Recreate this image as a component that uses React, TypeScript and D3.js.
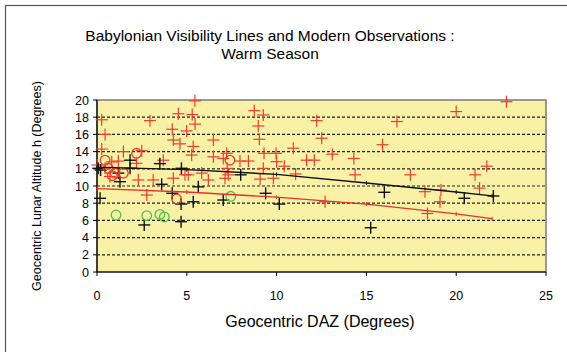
import React from "react";
import * as d3 from "d3";

const W = 567;
const H = 352;

const titleLines = ["Babylonian Visibility Lines and Modern Observations :", "Warm Season"];
const xLabel = "Geocentric DAZ (Degrees)";
const yLabel = "Geocentric Lunar Altitude h (Degrees)";
const xTicks = [0, 5, 10, 15, 20, 25];
const yTicks = [0, 2, 4, 6, 8, 10, 12, 14, 16, 18, 20];

// Modern observations: red crosses
const redCrosses: [number, number][] = [
  [5.45, 19.9], [0.26, 17.7], [2.95, 17.6], [4.53, 18.4], [5.3, 18.3], [5.46, 17.2],
  [0.45, 16.0], [4.19, 16.6], [4.99, 16.4], [4.25, 15.35], [6.48, 15.35], [4.62, 14.9],
  [5.36, 14.6], [0.26, 14.3], [1.47, 14.0], [2.49, 14.1], [5.27, 13.6], [6.48, 13.4],
  [7.03, 13.2], [7.22, 13.8], [0.82, 12.8], [1.19, 12.9], [2.2, 12.64], [3.69, 13.0],
  [0.02, 12.44], [0.45, 12.06], [0.72, 11.1], [2.3, 10.7], [3.13, 10.7], [4.25, 10.9],
  [4.9, 11.3], [5.08, 11.3], [5.83, 11.5], [6.2, 10.7], [7.13, 10.9], [7.31, 11.3],
  [7.25, 12.05], [2.77, 8.95],
  [8.76, 18.76], [9.26, 18.26], [8.98, 16.98], [9.04, 15.43], [12.23, 17.6], [12.51, 15.55],
  [9.3, 13.8], [9.97, 13.8], [10.93, 14.4], [13.1, 13.7], [14.3, 13.2], [10.0, 12.83],
  [10.43, 12.3], [7.96, 12.9], [8.43, 12.9], [11.67, 13.0], [12.1, 13.0], [9.26, 12.05],
  [11.06, 11.4], [14.37, 11.3], [9.08, 10.8], [9.82, 10.9], [12.7, 8.17],
  [22.8, 19.8], [20.0, 18.65], [16.7, 17.5], [15.9, 14.8], [17.45, 11.3], [21.05, 11.3],
  [21.7, 12.3], [21.3, 9.75], [18.26, 9.34], [19.15, 9.53], [19.1, 8.17], [18.4, 6.8],
];

// Modern observations: black crosses
const blackCrosses: [number, number][] = [
  [1.84, 13.0], [0.07, 12.06], [0.2, 11.85], [1.19, 11.5], [1.84, 12.06], [1.28, 10.5],
  [3.5, 12.6], [3.6, 10.2], [4.7, 12.06], [5.64, 9.9], [0.17, 8.57], [4.19, 9.15],
  [4.68, 7.9], [5.36, 8.17], [7.03, 8.37], [2.63, 5.47], [4.68, 5.85], [8.0, 11.3],
  [9.39, 9.15], [10.15, 7.9], [15.24, 5.15], [16.0, 9.27], [20.45, 8.57], [22.07, 8.84],
];

// Red open circles
const redCircles: [number, number][] = [
  [0.45, 13.0], [2.2, 13.8], [0.63, 12.06], [1.0, 11.5], [1.47, 11.5], [0.85, 11.2],
  [7.4, 13.0], [4.43, 8.5],
];

// Green open circles
const greenCircles: [number, number][] = [
  [1.06, 6.63], [2.77, 6.55], [3.5, 6.7], [3.75, 6.4], [7.45, 8.8],
];

// Babylonian visibility lines
const blackLine: [number, number][] = [
  [0, 12.2], [5, 11.9], [10, 11.35], [15, 10.35], [20, 9.3], [22, 8.85],
];
const redLine: [number, number][] = [
  [0, 9.7], [5, 9.3], [10, 8.7], [15, 7.9], [20, 6.75], [22, 6.2],
];

const FONT = "'Liberation Sans', Arial, sans-serif";

export default function App() {
  const left = 97, right = 546, top = 100, bottom = 272;
  const x = d3.scaleLinear().domain([0, 25]).range([left, right]);
  const y = d3.scaleLinear().domain([0, 20]).range([bottom, top]);
  const line = d3.line<[number, number]>().x(d => x(d[0])).y(d => y(d[1]));

  const cross = (d: [number, number], i: number, color: string, sw: number) => {
    const cx = x(d[0]), cy = y(d[1]), s = 6;
    return (
      <g key={i} stroke={color} strokeWidth={sw}>
        <line x1={cx - s} y1={cy} x2={cx + s} y2={cy} />
        <line x1={cx} y1={cy - s} x2={cx} y2={cy + s} />
      </g>
    );
  };

  return (
    <svg width={W} height={H} style={{ position: "absolute", left: 0, top: 0, background: "#fff" }}>
      <rect x={5.5} y={5.5} width={W + 10} height={H + 10} fill="#fff" stroke="#555" strokeWidth={1.2} />
      {titleLines.map((t, i) => (
        <text key={i} x={270} y={41 + i * 18} textAnchor="middle" fontFamily={FONT} fontSize={15.5} fill="#000">{t}</text>
      ))}
      <rect x={left} y={top} width={right - left} height={bottom - top} fill="#f9f2a6" />
      {yTicks.filter(v => v > 0 && v < 20).map(v => (
        <line key={v} x1={left} x2={right} y1={y(v)} y2={y(v)} stroke="#222" strokeWidth={1.2} strokeDasharray="3,2" />
      ))}
      <rect x={left} y={top} width={right - left} height={bottom - top} fill="none" stroke="#7a7a7a" strokeWidth={1.5} />
      <line x1={left} x2={left} y1={top} y2={bottom} stroke="#000" strokeWidth={1.2} />
      <line x1={left} x2={right} y1={bottom} y2={bottom} stroke="#000" strokeWidth={1.2} />
      {yTicks.map(v => (
        <g key={v}>
          <line x1={left - 4} x2={left} y1={y(v)} y2={y(v)} stroke="#000" />
          <text x={left - 8} y={y(v) + 4.5} textAnchor="end" fontFamily={FONT} fontSize={12.5}>{v}</text>
        </g>
      ))}
      {xTicks.map(v => (
        <g key={v}>
          <line x1={x(v)} x2={x(v)} y1={bottom} y2={bottom + 4} stroke="#000" />
          <text x={x(v)} y={bottom + 28} textAnchor="middle" fontFamily={FONT} fontSize={12.5}>{v}</text>
        </g>
      ))}
      <text x={320} y={327} textAnchor="middle" fontFamily={FONT} fontSize={16}>{xLabel}</text>
      <text transform={`translate(41,${(top + bottom) / 2}) rotate(-90)`} textAnchor="middle" fontFamily={FONT} fontSize={12.5}>{yLabel}</text>

      <g>
        {redCrosses.map((d, i) => cross(d, i, "#ee3b30", 1.2))}
      </g>
      <g>
        {blackCrosses.map((d, i) => cross(d, i, "#111", 1.4))}
      </g>
      {redCircles.map((d, i) => (
        <circle key={i} cx={x(d[0])} cy={y(d[1])} r={4.8} fill="none" stroke="#ee3b30" strokeWidth={1.3} />
      ))}
      {greenCircles.map((d, i) => (
        <circle key={i} cx={x(d[0])} cy={y(d[1])} r={4.8} fill="none" stroke="#4cc04c" strokeWidth={1.3} />
      ))}
      <path d={line(blackLine) || ""} fill="none" stroke="#111" strokeWidth={1.4} />
      <path d={line(redLine) || ""} fill="none" stroke="#e53228" strokeWidth={1.3} />
      {blackLine.map((d, i) => (
        <line key={i} x1={x(d[0])} x2={x(d[0])} y1={y(d[1]) - 2} y2={y(d[1]) + 2} stroke="#111" />
      ))}
      {redLine.map((d, i) => (
        <line key={i} x1={x(d[0])} x2={x(d[0])} y1={y(d[1]) - 2} y2={y(d[1]) + 2} stroke="#e53228" />
      ))}
    </svg>
  );
}
